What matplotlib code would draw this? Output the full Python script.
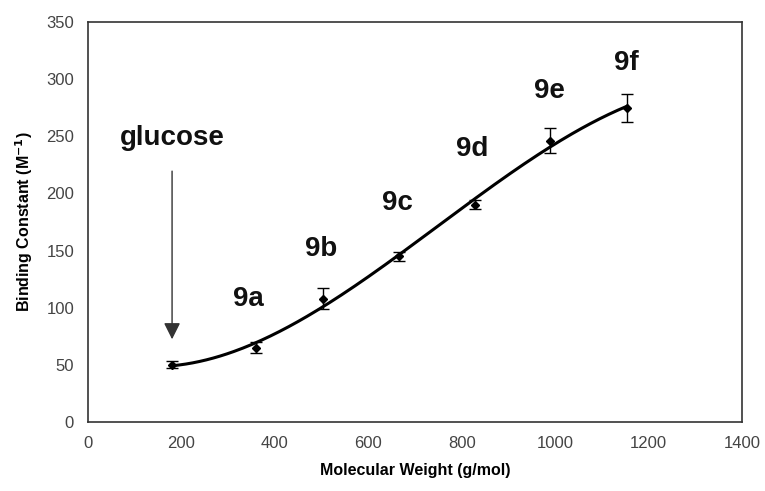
import matplotlib
matplotlib.use('Agg')
import matplotlib.pyplot as plt
import numpy as np

plt.rcParams['font.family'] = ['Liberation Sans', 'DejaVu Sans']

# data
names = ['glucose', '9a', '9b', '9c', '9d', '9e', '9f']
mw = [180, 360, 504, 666, 828, 990, 1154]
kb = [50, 65, 108, 145, 190, 246, 275]
err = [3, 5, 9, 4, 4, 11, 12]
label_y = [249, 108, 151, 192, 239, 290, 314]
label_x = [180, 343, 499, 662, 822, 987, 1152]

fig = plt.figure(figsize=(7.65, 4.91), dpi=100)
ax = fig.add_axes([0.115, 0.1405, 0.855, 0.8145])

# smooth fit line through the points
coef = np.polyfit(mw, kb, 3)
xs = np.linspace(mw[0], mw[-1], 200)
ax.plot(xs, np.polyval(coef, xs), color='black', lw=2.2)

ax.errorbar(mw, kb, yerr=err, fmt='D', color='black', ms=4.5,
            ecolor='black', elinewidth=1, capsize=4, capthick=1)

for n, x, y in zip(names, label_x, label_y):
    ax.text(x, y, n, ha='center', va='center', fontsize=20, fontweight='bold',
            color='#111111')

ax.annotate('', xy=(mw[0], 70), xytext=(mw[0], 222),
            arrowprops=dict(arrowstyle='-|>', color='#333333', lw=1,
                            mutation_scale=25))

ax.set_xlim(0, 1400)
ax.set_ylim(0, 350)
ax.set_xticks(range(0, 1401, 200))
ax.set_yticks(range(0, 351, 50))
ax.tick_params(length=0, labelsize=12, labelcolor='#444444', pad=10)
for s in ax.spines.values():
    s.set_linewidth(1.2)
    s.set_color('#333333')

ax.set_xlabel('Molecular Weight (g/mol)', fontsize=11.5, fontweight='bold', labelpad=9)
ax.set_ylabel('Binding Constant (M$^{\\mathbf{-1}}$)', fontsize=11.5, fontweight='bold', labelpad=8)

fig.savefig('out.png', dpi=100)
